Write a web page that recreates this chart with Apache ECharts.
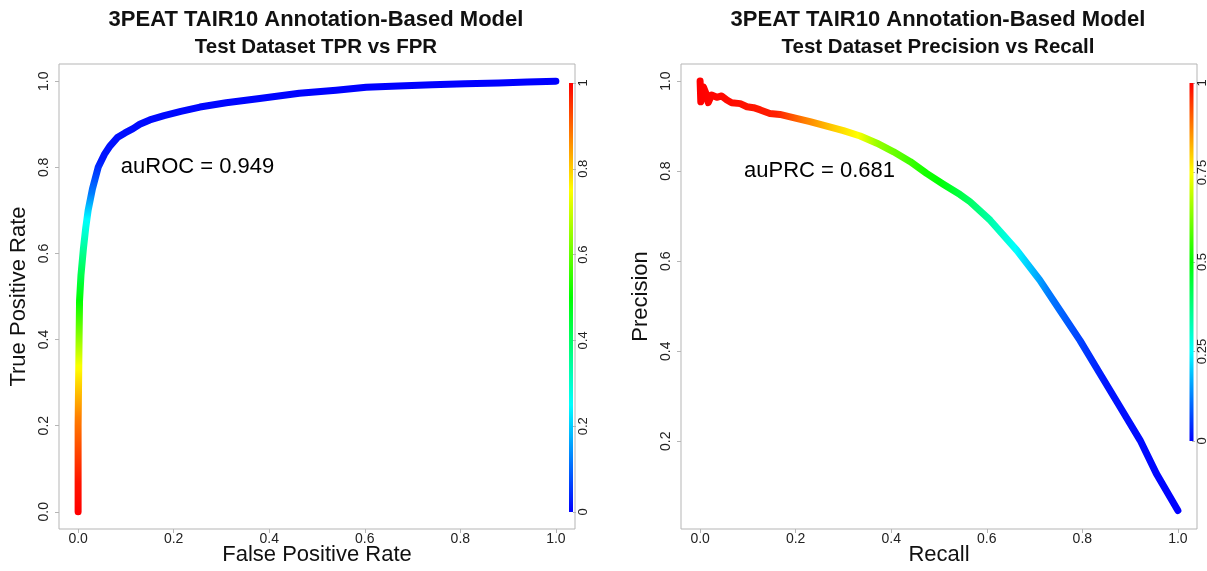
<!DOCTYPE html>
<html><head><meta charset="utf-8">
<script src="https://cdn.jsdelivr.net/npm/echarts@6/dist/echarts.min.js"></script>
<style>html,body{margin:0;padding:0;background:#fff}#c{width:1207px;height:571px}</style>
</head><body><div id="c"></div><script>
// ---------- data ----------
const rocFpr = [0, 0, 0, 0.001, 0.002, 0.003, 0.006, 0.011, 0.016, 0.021, 0.03, 0.042, 0.055, 0.067, 0.083, 0.098, 0.115, 0.129, 0.15, 0.18, 0.215, 0.255, 0.31, 0.38, 0.463, 0.54, 0.603, 0.67, 0.741, 0.81, 0.881, 0.94, 1.0];
const rocTpr = [0, 0.1, 0.2, 0.3, 0.4, 0.49, 0.55, 0.61, 0.66, 0.7, 0.75, 0.8, 0.83, 0.85, 0.87, 0.88, 0.89, 0.9, 0.91, 0.92, 0.93, 0.94, 0.95, 0.96, 0.972, 0.979, 0.986, 0.989, 0.992, 0.994, 0.996, 0.998, 1.0];
// cutoff colour along the ROC curve (by TPR)
const rocColorTpr    = [0, 0.07, 0.22, 0.335, 0.49, 0.61, 0.678, 0.74, 0.82, 1.0];
const rocColorCutoff = [1, 0.98, 0.875, 0.75, 0.5, 0.35, 0.25, 0.12, 0.02, 0];

const prRecall    = [0, 0.0014, 0.007, 0.0126, 0.017, 0.024, 0.035, 0.045, 0.056, 0.066, 0.084, 0.098, 0.112, 0.126, 0.146, 0.167, 0.195, 0.23, 0.265, 0.3, 0.335, 0.37, 0.405, 0.44, 0.474, 0.509, 0.544, 0.565, 0.607, 0.663, 0.711, 0.753, 0.795, 0.837, 0.879, 0.921, 0.955, 1.0];
const prPrecision = [1.0, 0.954, 0.987, 0.972, 0.952, 0.969, 0.964, 0.967, 0.958, 0.952, 0.95, 0.943, 0.941, 0.936, 0.928, 0.926, 0.919, 0.91, 0.9, 0.89, 0.878, 0.862, 0.843, 0.821, 0.795, 0.771, 0.748, 0.732, 0.691, 0.624, 0.558, 0.491, 0.424, 0.35, 0.276, 0.202, 0.128, 0.046];
// cutoff colour along the PR curve (by recall)
const prColorRecall = [0, 0.16, 0.22, 0.28, 0.33, 0.37, 0.47, 0.5, 0.58, 0.66, 0.73, 0.85, 1.0];
const prColorCutoff = [1, 0.97, 0.875, 0.8, 0.75, 0.65, 0.52, 0.5, 0.38, 0.25, 0.12, 0.02, 0];

const axisTicks   = [0, 0.2, 0.4, 0.6, 0.8, 1.0];
const prYTicks    = [0.2, 0.4, 0.6, 0.8, 1.0];
const rocBarTicks = [0, 0.2, 0.4, 0.6, 0.8, 1];
const prBarTicks  = [0, 0.25, 0.5, 0.75, 1];

const rocTitle = ['3PEAT TAIR10 Annotation-Based Model', 'Test Dataset TPR vs FPR'];
const prTitle  = ['3PEAT TAIR10 Annotation-Based Model', 'Test Dataset Precision vs Recall'];
const rocAnnot = {text: 'auROC = 0.949', x: 0.25, y: 0.8};
const prAnnot  = {text: 'auPRC = 0.681', x: 0.25, y: 0.8};

// ---------- helpers ----------
function rainbow(c) { // R rainbow: cutoff 1 -> red, 0 -> blue
  const h = 240 * (1 - Math.max(0, Math.min(1, c)));
  const f = (n) => { const k = (n + h / 60) % 6; return Math.round(255 * (1 - Math.max(0, Math.min(k, 4 - k, 1)))); };
  return 'rgb(' + f(5) + ',' + f(3) + ',' + f(1) + ')';
}
function interp(v, xs, ys) {
  if (v <= xs[0]) return ys[0];
  for (let i = 1; i < xs.length; i++) if (v <= xs[i]) { const t = (v - xs[i-1]) / (xs[i] - xs[i-1]); return ys[i-1] + t * (ys[i] - ys[i-1]); }
  return ys[ys.length - 1];
}
function colorList(xs, cs) { const out = []; for (let i = 0; i <= 100; i++) out.push(rainbow(interp(i / 100, xs, cs))); return out; }
const rocColors = colorList(rocColorTpr, rocColorCutoff);
const prColors  = colorList(prColorRecall, prColorCutoff);
const rainbowStops = [rainbow(0), rainbow(0.25), rainbow(0.5), rainbow(0.75), rainbow(1)];

const FONT = 'Liberation Sans, Arial, Helvetica, sans-serif';
const GRAY = '#b5b5b5';

function mainX(idx, name, ticks) {
  return { gridIndex: idx, type: 'value', min: -0.04, max: 1.04,
    axisLine: {show: false, onZero: false}, splitLine: {show: false},
    axisTick: {show: true, length: 4, lineStyle: {color: GRAY}, customValues: ticks},
    axisLabel: {customValues: ticks, formatter: v => v.toFixed(1), fontSize: 14, color: '#222', margin: 3, fontFamily: FONT},
    name: name, nameLocation: 'middle', nameGap: 15, nameMoveOverlap: false,
    nameTextStyle: {fontSize: 22, color: '#111', fontFamily: FONT} };
}
function mainY(idx, name, ticks, min, max) {
  return { gridIndex: idx, type: 'value', min: min, max: max,
    axisLine: {show: false, onZero: false}, splitLine: {show: false},
    axisTick: {show: true, length: 4, lineStyle: {color: GRAY}, customValues: ticks},
    axisLabel: {customValues: ticks, formatter: v => v.toFixed(1), rotate: 90, fontSize: 14, color: '#222', margin: 8, fontFamily: FONT},
    name: name, nameLocation: 'middle', nameGap: 29, nameRotate: 90, nameMoveOverlap: false,
    nameTextStyle: {fontSize: 22, color: '#111', fontFamily: FONT} };
}
function barY(idx, ticks) {
  return { gridIndex: idx, type: 'value', min: 0, max: 1, position: 'right',
    axisLine: {show: false, onZero: false}, splitLine: {show: false},
    axisTick: {show: true, length: 3, lineStyle: {color: GRAY}, customValues: ticks},
    axisLabel: {customValues: ticks, formatter: v => String(v), rotate: 90, fontSize: 13, color: '#222', margin: 4, fontFamily: FONT} };
}
function annotSeries(idx, a) {
  return {type: 'scatter', xAxisIndex: idx, yAxisIndex: idx, symbolSize: 0, silent: true,
    data: [{name: a.text, value: [a.x, a.y]}],
    label: {show: true, position: [0, 0], align: 'center', verticalAlign: 'middle', formatter: '{b}',
            fontSize: 22, color: '#000', textBorderWidth: 0, opacity: 1, fontFamily: FONT}};
}
function titleOf(t, cx) {
  return {text: t[0], subtext: t[1], left: cx, top: 2, textAlign: 'center', itemGap: 2,
    textStyle: {fontSize: 22, fontWeight: 'bold', lineHeight: 26, color: '#111', fontFamily: FONT},
    subtextStyle: {fontSize: 20.5, fontWeight: 'bold', lineHeight: 24, color: '#111', fontFamily: FONT}};
}

const option = {
  animation: false,
  backgroundColor: '#fff',
  title: [titleOf(rocTitle, 311), titleOf(prTitle, 933)],
  grid: [
    {left: 59, top: 64, width: 516, height: 468, show: true, borderColor: GRAY, borderWidth: 1, backgroundColor: 'transparent'},
    {left: 681, top: 64, width: 516, height: 467, show: true, borderColor: GRAY, borderWidth: 1, backgroundColor: 'transparent'},
    {left: 569, top: 83, width: 4, height: 429},
    {left: 1191, top: 83, width: 4, height: 358}
  ],
  xAxis: [
    mainX(0, 'False Positive Rate', axisTicks),
    mainX(1, 'Recall', axisTicks),
    {gridIndex: 2, type: 'value', min: -1, max: 1, show: false},
    {gridIndex: 3, type: 'value', min: -1, max: 1, show: false}
  ],
  yAxis: [
    mainY(0, 'True Positive Rate', axisTicks, -0.04, 1.04),
    mainY(1, 'Precision', prYTicks, 0.005, 1.038),
    barY(2, rocBarTicks),
    barY(3, prBarTicks)
  ],
  visualMap: [
    {type: 'continuous', show: false, seriesIndex: 0, dimension: 1, min: 0, max: 1, inRange: {color: rocColors}},
    {type: 'continuous', show: false, seriesIndex: 1, dimension: 0, min: 0, max: 1, inRange: {color: prColors}},
    {type: 'continuous', show: false, seriesIndex: [4, 5], dimension: 1, min: 0, max: 1, inRange: {color: rainbowStops}}
  ],
  series: [
    {type: 'line', xAxisIndex: 0, yAxisIndex: 0, showSymbol: false, symbol: 'none',
     data: rocFpr.map((x, i) => [x, rocTpr[i]]),
     lineStyle: {width: 7, cap: 'round', join: 'round'}},
    {type: 'line', xAxisIndex: 1, yAxisIndex: 1, showSymbol: false, symbol: 'none',
     data: prRecall.map((x, i) => [x, prPrecision[i]]),
     lineStyle: {width: 7, cap: 'round', join: 'round'}},
    annotSeries(0, rocAnnot),
    annotSeries(1, prAnnot),
    {type: 'line', xAxisIndex: 2, yAxisIndex: 2, showSymbol: false, symbol: 'none',
     data: [[0, 0], [0, 1]], lineStyle: {width: 4, cap: 'butt'}},
    {type: 'line', xAxisIndex: 3, yAxisIndex: 3, showSymbol: false, symbol: 'none',
     data: [[0, 0], [0, 1]], lineStyle: {width: 4, cap: 'butt'}}
  ]
};
const chart = echarts.init(document.getElementById('c'), null, {renderer: 'canvas'});
chart.setOption(option);
</script></body></html>
